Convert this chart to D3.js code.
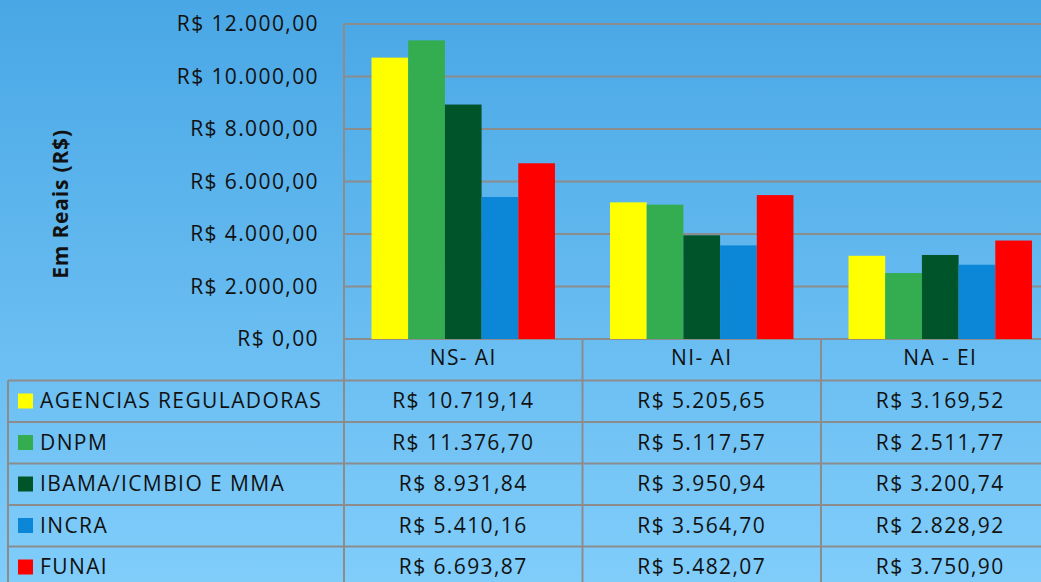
<!DOCTYPE html>
<html lang="pt">
<head>
<meta charset="UTF-8">
<script src="https://d3js.org/d3.v7.min.js"></script>
<style>
  body { margin: 0; }
  text { font-family: "Open Sans", sans-serif; fill: #111; }
</style>
</head>
<body>
<div id="chart"></div>
<script>
const categories = ["NS- AI", "NI- AI", "NA - EI"]
const series = ["AGENCIAS REGULADORAS", "DNPM", "IBAMA/ICMBIO E MMA", "INCRA", "FUNAI"]
const colors = ["#ffff00", "#33ad50", "#00542a", "#0c86d6", "#ff0000"]
const agencias = [10719.14, 5205.65, 3169.52]
const dnpm = [11376.70, 5117.57, 2511.77]
const ibama = [8931.84, 3950.94, 3200.74]
const incra = [5410.16, 3564.70, 2828.92]
const funai = [6693.87, 5482.07, 3750.90]
const yTicks = [0, 2000, 4000, 6000, 8000, 10000, 12000]

const values = [agencias, dnpm, ibama, incra, funai]

const W = 1041, H = 582
const plotLeft = 344, plotTop = 24, plotBottom = 339
const bandW = 238.5
const rowH = 41.5
const tableLeft = 8
const gridCol = "#8c8c8c"
const fs = 21, ls = 1.4

const fmt = v => "R$ " + v.toLocaleString("pt-BR", {minimumFractionDigits: 2, maximumFractionDigits: 2})

const svg = d3.select("#chart").append("svg")
    .attr("width", W).attr("height", H)

const grad = svg.append("defs").append("linearGradient")
    .attr("id", "bg").attr("x1", 0).attr("x2", 0).attr("y1", 0).attr("y2", 1)
grad.append("stop").attr("offset", "0%").attr("stop-color", "#49a7e5")
grad.append("stop").attr("offset", "100%").attr("stop-color", "#80cdfa")
svg.append("rect").attr("width", W).attr("height", H).attr("fill", "url(#bg)")

const x = d3.scaleBand().domain(categories).range([plotLeft, plotLeft + bandW * 3])
const xs = d3.scaleBand().domain(series).range([0, x.bandwidth()]).paddingInner(0).paddingOuter(0.75)
const y = d3.scaleLinear().domain([0, 12000]).range([plotBottom, plotTop])

// grid lines
svg.append("g").selectAll("line").data(yTicks).join("line")
    .attr("x1", plotLeft).attr("x2", W)
    .attr("y1", d => y(d)).attr("y2", d => y(d))
    .attr("stroke", gridCol).attr("stroke-width", 2)

// y labels
svg.append("g").selectAll("text").data(yTicks).join("text")
    .attr("x", 319).attr("y", d => y(d) + 7)
    .attr("text-anchor", "end").attr("font-size", fs).attr("letter-spacing", ls)
    .text(d => fmt(d))

svg.append("text")
    .attr("transform", "translate(68,204) rotate(-90)")
    .attr("text-anchor", "middle").attr("font-size", fs).attr("font-weight", "bold")
    .attr("letter-spacing", 0.8)
    .text("Em Reais (R$)")

// bars
series.forEach((s, i) => {
    svg.append("g").selectAll("rect").data(categories).join("rect")
        .attr("x", c => x(c) + xs(s))
        .attr("width", xs.bandwidth())
        .attr("y", (c, j) => y(values[i][j]))
        .attr("height", (c, j) => y(0) - y(values[i][j]))
        .attr("fill", colors[i])
})

// table
const tableTop = plotBottom + rowH
const tg = svg.append("g")
const hLines = [tableTop].concat(series.map((s, i) => tableTop + rowH * (i + 1)))
tg.selectAll("line.h").data(hLines).join("line")
    .attr("x1", tableLeft).attr("x2", W).attr("y1", d => d).attr("y2", d => d)
    .attr("stroke", gridCol).attr("stroke-width", 2)
tg.append("line").attr("x1", tableLeft).attr("x2", tableLeft).attr("y1", tableTop).attr("y2", H)
    .attr("stroke", gridCol).attr("stroke-width", 2)
tg.append("line").attr("x1", plotLeft).attr("x2", plotLeft).attr("y1", plotTop).attr("y2", H)
    .attr("stroke", gridCol).attr("stroke-width", 2)
categories.forEach(c => {
    tg.append("line").attr("x1", x(c) + x.bandwidth()).attr("x2", x(c) + x.bandwidth())
        .attr("y1", plotBottom).attr("y2", H)
        .attr("stroke", gridCol).attr("stroke-width", 2)
})

// category labels
categories.forEach(c => {
    tg.append("text")
        .attr("x", x(c) + x.bandwidth() / 2).attr("y", plotBottom + 26)
        .attr("text-anchor", "middle").attr("font-size", fs).attr("letter-spacing", ls)
        .text(c)
})

series.forEach((s, i) => {
    const yy = tableTop + rowH * i
    tg.append("rect").attr("x", 18).attr("y", yy + 13).attr("width", 15).attr("height", 15)
        .attr("fill", colors[i])
    tg.append("text").attr("x", 40).attr("y", yy + 27.5)
        .attr("font-size", fs).attr("letter-spacing", ls).text(s)
    categories.forEach((c, j) => {
        tg.append("text")
            .attr("x", x(c) + x.bandwidth() / 2).attr("y", yy + 27.5)
            .attr("text-anchor", "middle").attr("font-size", fs).attr("letter-spacing", ls)
            .text(fmt(values[i][j]))
    })
})
</script>
</body>
</html>
